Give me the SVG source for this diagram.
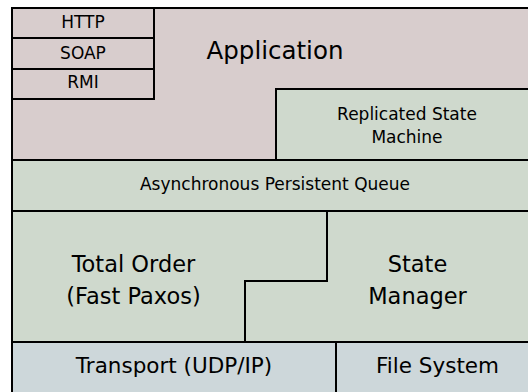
<svg xmlns="http://www.w3.org/2000/svg" width="528" height="392" viewBox="0 0 528 392">
  <style>
    .box { stroke: #000; stroke-width: 2; stroke-linejoin: miter; }
    .app { fill: #d8cdcd; }
    .mid { fill: #cfd9cd; }
    .low { fill: #cdd7da; }
    text { font-family: "DejaVu Sans", "Noto Sans", sans-serif; fill: #000; text-anchor: middle; }
    .s { font-size: 17px; }
    .l { font-size: 22.5px; }
    .b { font-size: 21.5px; }
  </style>
  <rect x="0" y="0" width="528" height="392" fill="#fff"/>

  <!-- Application layer with its protocol stack -->
  <g id="application">
    <rect class="box app" x="12" y="8" width="530" height="152"/>
    <text x="275" y="59" font-size="24.5">Application</text>
  </g>
  <g id="http">
    <rect class="box app" x="12" y="8" width="142" height="30"/>
    <text class="s" x="83" y="28">HTTP</text>
  </g>
  <g id="soap">
    <rect class="box app" x="12" y="38" width="142" height="31"/>
    <text class="s" x="83" y="59">SOAP</text>
  </g>
  <g id="rmi">
    <rect class="box app" x="12" y="69" width="142" height="30"/>
    <text class="s" x="83" y="88">RMI</text>
  </g>
  <g id="replicated-state-machine">
    <rect class="box mid" x="276" y="89" width="266" height="71"/>
    <text class="s" x="407" y="120">Replicated State</text>
    <text class="s" x="407" y="143">Machine</text>
  </g>

  <!-- Queue -->
  <g id="queue">
    <rect class="box mid" x="12" y="160" width="530" height="51"/>
    <text class="s" x="275" y="190">Asynchronous Persistent Queue</text>
  </g>

  <!-- Ordering and state management -->
  <g id="total-order">
    <polygon class="box mid" points="12,211 327,211 327,281 245,281 245,342 12,342"/>
    <text class="l" x="133.5" y="272">Total Order</text>
    <text class="l" x="133.5" y="304">(Fast Paxos)</text>
  </g>
  <g id="state-manager">
    <polygon class="box mid" points="327,211 542,211 542,342 245,342 245,281 327,281"/>
    <text class="l" x="417.5" y="272">State</text>
    <text class="l" x="417.5" y="304">Manager</text>
  </g>

  <!-- Lower layer -->
  <g id="transport">
    <rect class="box low" x="12" y="342" width="324" height="60"/>
    <text class="b" x="174" y="373">Transport (UDP/IP)</text>
  </g>
  <g id="file-system">
    <rect class="box low" x="336" y="342" width="206" height="60"/>
    <text class="b" x="437.5" y="373">File System</text>
  </g>

  <g id="connectors"></g>
</svg>
